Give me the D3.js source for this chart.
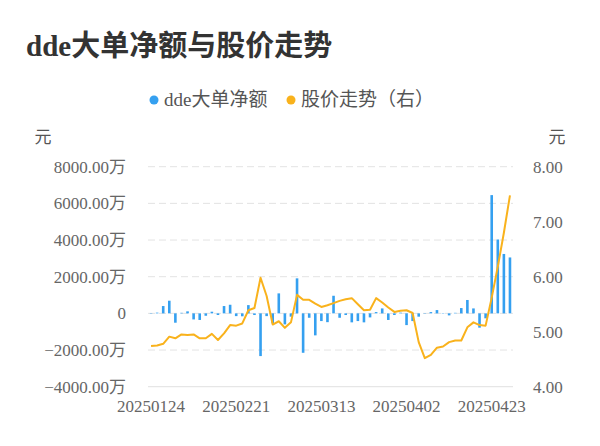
<!DOCTYPE html>
<html>
<head>
<meta charset="utf-8">
<script src="https://cdn.jsdelivr.net/npm/d3@7/dist/d3.min.js"></script>
<style>
  html, body { margin: 0; padding: 0; background: #fff; }
  svg { display: block; }
  text { font-family: "Liberation Serif", "Noto Sans CJK SC", serif; }
</style>
</head>
<body>
<svg id="chart" width="600" height="446"></svg>
<script>
const dates = [
  "20250124","20250127",
  "20250205","20250206","20250207","20250210","20250211","20250212","20250213","20250214",
  "20250217","20250218","20250219","20250220","20250221","20250224","20250225","20250226","20250227","20250228",
  "20250303","20250304","20250305","20250306","20250307","20250310","20250311","20250312","20250313","20250314",
  "20250317","20250318","20250319","20250320","20250321","20250324","20250325","20250326","20250327","20250328","20250331",
  "20250401","20250402","20250403","20250407","20250408","20250409","20250410","20250411",
  "20250414","20250415","20250416","20250417","20250418","20250421","20250422","20250423","20250424","20250425","20250428"
];
// dde大单净额 (万元)
const ddeNet = [
  20, 40, 400, 690, -510, 30, 110, -330, -360, -130,
  90, -90, 400, 470, -150, -160, 450, -90, -2330, -150,
  -545, 1090, -600, -180, 1910, -2150, -240, -1200, -420, -480,
  960, -240, -90, -490, -420, -490, -220, 70, 270, -360,
  -90, 40, -640, -420, -180, 20, 70, 180, 20, -110,
  30, 290, 730, 270, -780, -270, 6450, 4030, 3240, 3050
];
// 股价 (元)
const price = [
  4.74, 4.75, 4.78, 4.91, 4.88, 4.95, 4.94, 4.95, 4.88, 4.88,
  4.96, 4.85, 4.97, 5.12, 5.11, 5.15, 5.39, 5.43, 5.98, 5.65,
  5.13, 5.19, 5.07, 5.17, 5.67, 5.58, 5.58, 5.51, 5.45, 5.48,
  5.52, 5.56, 5.59, 5.61, 5.50, 5.39, 5.40, 5.61, 5.53, 5.44,
  5.36, 5.38, 5.39, 5.34, 4.81, 4.52, 4.58, 4.71, 4.73, 4.81,
  4.84, 4.84, 5.08, 5.17, 5.12, 5.11, 5.62, 6.18, 6.80, 7.48
];
const leftTicks = [-4000, -2000, 0, 2000, 4000, 6000, 8000];
const rightTicks = [4, 5, 6, 7, 8];
const xTickLabels = ["20250124", "20250221", "20250313", "20250402", "20250423"];
const seriesNames = ["dde大单净额", "股价走势（右）"];

const BLUE = "#35a0f0", ORANGE = "#f9b21c";
const svg = d3.select("#chart");
const L = 148, R = 513, T = 166.7, B = 386.7;

const x = d3.scaleBand().domain(dates).range([L, R]).padding(0);
const yL = d3.scaleLinear().domain([-4000, 8000]).range([B, T]);
const yR = d3.scaleLinear().domain([4, 8]).range([B, T]);

// Title
svg.append("text").attr("x", 26).attr("y", 56)
  .attr("font-size", 29).attr("font-weight", "bold").attr("fill", "#333")
  .text("dde大单净额与股价走势");

// Legend
const leg = svg.append("g");
leg.append("circle").attr("cx", 154).attr("cy", 100).attr("r", 4.5).attr("fill", BLUE);
leg.append("text").attr("x", 164).attr("y", 106).attr("font-size", 19).attr("fill", "#555").text(seriesNames[0]);
leg.append("circle").attr("cx", 291).attr("cy", 100).attr("r", 4.5).attr("fill", ORANGE);
leg.append("text").attr("x", 301).attr("y", 106).attr("font-size", 19).attr("fill", "#555").text(seriesNames[1]);

// Unit labels
svg.append("text").attr("x", 43).attr("y", 143).attr("text-anchor", "middle")
  .attr("font-size", 17).attr("fill", "#555").text("元");
svg.append("text").attr("x", 557).attr("y", 143).attr("text-anchor", "middle")
  .attr("font-size", 17).attr("fill", "#555").text("元");

// Grid lines
svg.append("g").selectAll("line").data(leftTicks.filter(d => d !== -4000)).join("line")
  .attr("x1", L).attr("x2", R)
  .attr("y1", d => yL(d)).attr("y2", d => yL(d))
  .attr("stroke", "#e3e3e3").attr("stroke-width", 1).attr("stroke-dasharray", "7,4");

// Bottom axis line
svg.append("line").attr("x1", L).attr("x2", R).attr("y1", B).attr("y2", B)
  .attr("stroke", "#e0e0e0").attr("stroke-width", 1);

// Left axis
const gL = svg.append("g").attr("transform", `translate(${L},0)`)
  .call(d3.axisLeft(yL).tickValues(leftTicks).tickSize(0).tickPadding(22)
    .tickFormat(d => d === 0 ? "0" : d3.format(".2f")(d) + "万"));
gL.select(".domain").remove();
gL.selectAll("text").attr("font-size", 17).attr("fill", "#666")
  .attr("font-family", "\"Liberation Serif\", \"Noto Sans CJK SC\", serif");

// Right axis
const gR = svg.append("g").attr("transform", `translate(${R},0)`)
  .call(d3.axisRight(yR).tickValues(rightTicks).tickSize(0).tickPadding(20)
    .tickFormat(d3.format(".2f")));
gR.select(".domain").remove();
gR.selectAll("text").attr("font-size", 17).attr("fill", "#666")
  .attr("font-family", "\"Liberation Serif\", \"Noto Sans CJK SC\", serif");

// Bottom axis
const gB = svg.append("g").attr("transform", `translate(0,${B})`)
  .call(d3.axisBottom(x).tickValues(xTickLabels).tickSize(0).tickPadding(13));
gB.select(".domain").remove();
gB.selectAll("text").attr("font-size", 17).attr("fill", "#666")
  .attr("font-family", "\"Liberation Serif\", \"Noto Sans CJK SC\", serif");

// Bars
const bw = 2.6;
svg.append("g").selectAll("rect").data(ddeNet).join("rect")
  .attr("x", (d, i) => x(dates[i]) + x.bandwidth() / 2 - bw / 2)
  .attr("width", bw)
  .attr("y", d => Math.min(yL(d), yL(0)))
  .attr("height", d => Math.abs(yL(d) - yL(0)))
  .attr("fill", BLUE);

// Price line
const line = d3.line()
  .x((d, i) => x(dates[i]) + x.bandwidth() / 2)
  .y(d => yR(d));
svg.append("path").datum(price)
  .attr("d", line).attr("fill", "none")
  .attr("stroke", ORANGE).attr("stroke-width", 2).attr("stroke-linejoin", "round");
</script>
</body>
</html>
